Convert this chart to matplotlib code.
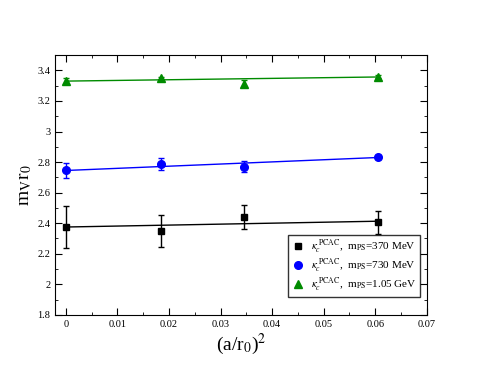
import numpy as np
import matplotlib.pyplot as plt
from matplotlib.ticker import MultipleLocator
from matplotlib.lines import Line2D

plt.rcParams['font.family'] = ['Liberation Serif', 'DejaVu Serif']
plt.rcParams['mathtext.fontset'] = 'stix'

# data
x = [0.0, 0.0185, 0.0345, 0.0605]
y_370 = [2.375, 2.348, 2.438, 2.405]
e_370 = [0.135, 0.107, 0.078, 0.074]
y_730 = [2.745, 2.789, 2.771, 2.833]
e_730 = [0.048, 0.04, 0.035, 0.012]
y_105 = [3.332, 3.348, 3.313, 3.358]
e_105 = [0.02, 0.012, 0.022, 0.01]
# fit lines (ends)
fit_x = [0.0, 0.0605]
fit_370 = [2.375, 2.413]
fit_730 = [2.745, 2.830]
fit_105 = [3.330, 3.357]

labels = [r'$\kappa_c^{\;\rm PCAC}$,  m$_{\rm PS}$=370 MeV',
          r'$\kappa_c^{\;\rm PCAC}$,  m$_{\rm PS}$=730 MeV',
          r'$\kappa_c^{\;\rm PCAC}$,  m$_{\rm PS}$=1.05 GeV']

green = '#008b00'

fig = plt.figure(figsize=(4.79, 3.7), dpi=100)
ax = fig.add_axes([0.115, 0.149, 0.776, 0.702])

ax.plot(fit_x, fit_370, color='black', lw=1)
ax.plot(fit_x, fit_730, color='blue', lw=1)
ax.plot(fit_x, fit_105, color=green, lw=1)

ax.errorbar(x, y_370, yerr=e_370, fmt='s', color='black', ms=4.5, capsize=2,
            elinewidth=1)
ax.errorbar(x, y_730, yerr=e_730, fmt='o', color='blue', ms=5.5, capsize=2,
            elinewidth=1)
ax.errorbar(x, y_105, yerr=e_105, fmt='^', color=green, ms=5.5, capsize=2,
            elinewidth=1)

ax.set_xlim(-0.0021, 0.07)
ax.set_ylim(1.8, 3.5)
ax.xaxis.set_minor_locator(MultipleLocator(0.005))
ax.yaxis.set_minor_locator(MultipleLocator(0.1))
ax.set_xticks(np.arange(0, 0.071, 0.01))
ax.set_xticklabels(['0', '0.01', '0.02', '0.03', '0.04', '0.05', '0.06', '0.07'])
ax.set_yticks(np.arange(1.8, 3.41, 0.2))
ax.set_yticklabels(['1.8', '2', '2.2', '2.4', '2.6', '2.8', '3', '3.2', '3.4'])
ax.tick_params(which='both', direction='in', top=True, right=True, labelsize=7.5)
ax.tick_params(which='major', length=5)
ax.tick_params(which='minor', length=2.5)

ax.set_xlabel(r'(a/r$_0$)$^2$', fontsize=14, labelpad=2)
ax.set_ylabel(r'm$_{\rm V}$r$_0$', fontsize=14, labelpad=2)

handles = [Line2D([], [], ls='none', marker='s', color='black', ms=4.5),
           Line2D([], [], ls='none', marker='o', color='blue', ms=5.5),
           Line2D([], [], ls='none', marker='^', color=green, ms=5.5)]
leg = ax.legend(handles, labels, loc='lower right', fontsize=8, frameon=True,
                fancybox=False, edgecolor='black', handletextpad=0.6,
                handlelength=1.2, labelspacing=0.05, borderpad=0.3,
                bbox_to_anchor=(0.877, 0.197), bbox_transform=fig.transFigure,
                borderaxespad=0)
leg.get_frame().set_linewidth(1)

plt.savefig('out.png', dpi=100)
